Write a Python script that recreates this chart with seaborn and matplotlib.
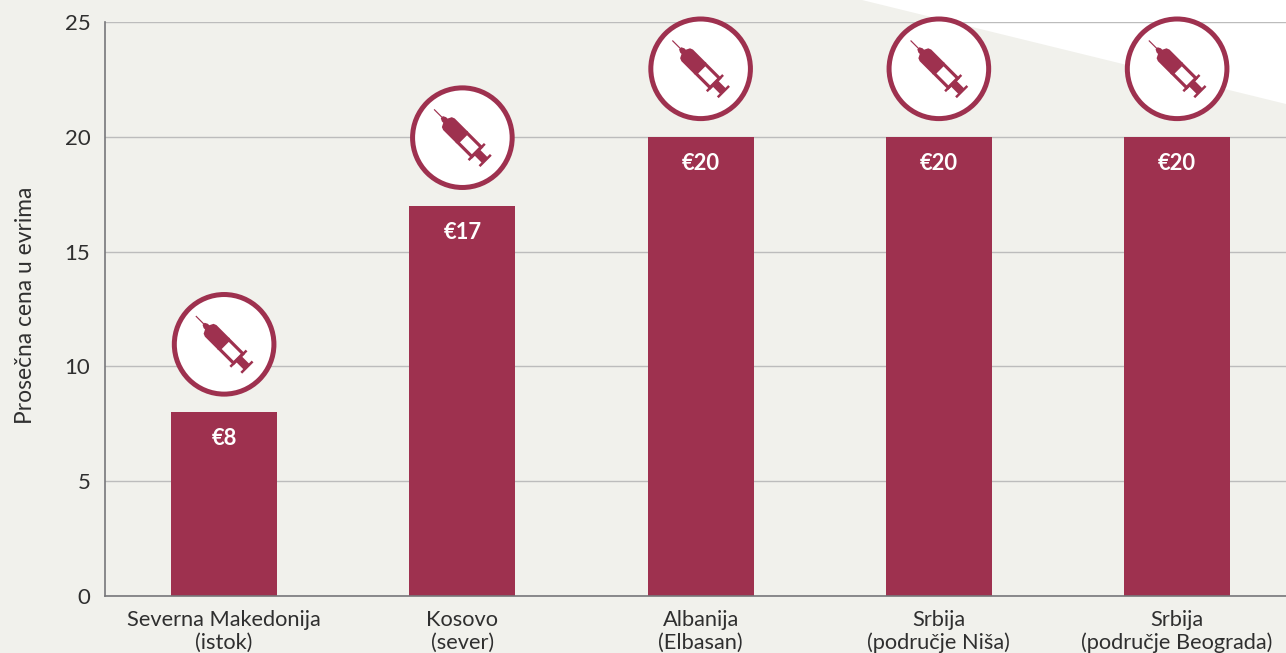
import pandas as pd
import seaborn as sns
import matplotlib.pyplot as plt
from matplotlib.patches import Circle, Polygon, Rectangle
from matplotlib.transforms import Affine2D

regije = ["Severna Makedonija\n(istok)", "Kosovo\n(sever)", "Albanija\n(Elbasan)",
          "Srbija\n(područje Niša)", "Srbija\n(područje Beograda)"]
cene = [8, 17, 20, 20, 20]
y_ticks = [0, 5, 10, 15, 20, 25]
natpisi = ["€8", "€17", "€20", "€20", "€20"]

BORDO = "#9e314f"
POZADINA = "#f1f1ec"
W, H = 1286, 653

sns.set_theme(style="white")
plt.rcParams["font.family"] = ["Lato", "DejaVu Sans"]

df = pd.DataFrame({"regija": regije, "cena": cene})

fig = plt.figure(figsize=(W / 100, H / 100), dpi=100, facecolor=POZADINA)
ax = fig.add_axes([105 / W, 1 - 596 / H, (W - 105) / W, 574 / H])
ax.set_facecolor("none")

# beli ugao gore desno
fig.add_artist(Polygon([(862 / W, 1), (1, 1), (1, 1 - 104 / H)], closed=True,
                       transform=fig.transFigure, fc="white", ec="none", zorder=-1))

sns.barplot(data=df, x="regija", y="cena", color=BORDO, saturation=1, width=0.445,
            edgecolor="none", linewidth=0, ax=ax, zorder=3)

ax.set_xlim(-0.5, 4.457)
ax.set_ylim(0, 25)
ax.set_yticks(y_ticks)
ax.set_xlabel("")
ax.set_ylabel("")
ax.grid(axis="y", color="#bcbcbc", lw=1.0, zorder=0)
ax.set_axisbelow(True)
sns.despine(ax=ax, top=True, right=True)
for s in ["left", "bottom"]:
    ax.spines[s].set_color("#77777a")
    ax.spines[s].set_linewidth(1.2)
    ax.spines[s].set_zorder(4)
ax.tick_params(axis="y", length=0, pad=10.5, labelsize=16, labelcolor="#2f2f2f")
ax.tick_params(axis="x", length=0, pad=10, labelsize=15.7, labelcolor="#2f2f2f")
for lab in ax.get_xticklabels():
    lab.set_linespacing(1.18)

fig.text(25.5 / W, 1 - 305 / H, "Prosečna cena u evrima", rotation=90, ha="center", va="center",
         fontsize=16.4, color="#2f2f2f")


def spric(cx, cy):
    # ikona: krug i spric, u pikselima oko centra kruga
    tr = Affine2D().translate(cx, cy)
    rot = Affine2D().rotate_deg(-45).translate(cx, cy)
    delovi = [
        Circle((0, 0), 49.8, fc="white", ec=BORDO, lw=3.6, transform=tr),
        Rectangle((-40, -0.6), 13, 1.2, fc=BORDO, ec="none", transform=rot),
        Polygon([(-29, -1.5), (-26, -3), (-24, -3), (-22, -7), (-19, -8.2), (0, -8.2),
                 (0, 8.2), (-19, 8.2), (-22, 7), (-24, 3), (-26, 3), (-29, 1.5)], closed=True,
                fc=BORDO, ec="none", transform=rot),
        Rectangle((0, -6.6), 20, 13.2, fc="white", ec=BORDO, lw=2.3, transform=rot),
        Rectangle((19, -11.5), 2.5, 23, fc=BORDO, ec="none", transform=rot),
        Rectangle((21, -4), 11, 8, fc=BORDO, ec="none", transform=rot),
        Rectangle((31, -8), 2.5, 16, fc=BORDO, ec="none", transform=rot),
    ]
    for d in delovi:
        d.set_clip_on(False)
        d.set_zorder(6)
        ax.add_artist(d)


fig.canvas.draw()
for i, (c, t) in enumerate(zip(cene, natpisi)):
    ax.annotate(t, (i, c), xytext=(0, -26.5 * 0.72), textcoords="offset points", ha="center", va="center",
                color="white", fontsize=15.8, fontweight="bold", zorder=5)
    px, py = ax.transData.transform((i, c))
    spric(px, py + 68)

fig.savefig("out.png", dpi=100, facecolor=POZADINA)
